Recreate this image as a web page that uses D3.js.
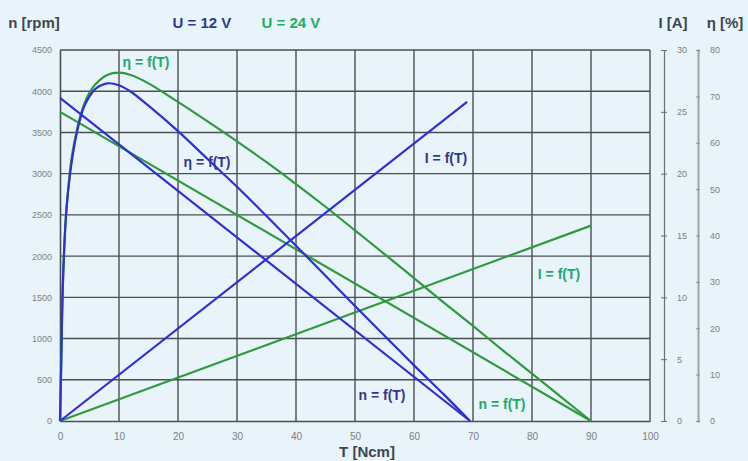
<!DOCTYPE html>
<html><head><meta charset="utf-8">
<script src="https://cdn.jsdelivr.net/npm/d3@7"></script>
<style>
html,body{margin:0;padding:0;background:#e8f4fa;}
svg{display:block;}
</style></head>
<body>
<svg id="c" width="748" height="461"></svg>
<script>
// ---- data ----
const torqueTicks = [0,10,20,30,40,50,60,70,80,90,100];
const speedTicks = [0,500,1000,1500,2000,2500,3000,3500,4000,4500];
const currentTicks = [0,5,10,15,20,25,30];
const effTicks = [0,10,20,30,40,50,60,70,80];

// 12 V (blue)
const speed12T = [0, 69.5];
const speed12 = [3920, 0];
const current12T = [0, 69];
const current12 = [0, 25.8];
const eff12T = [0,0.2,0.5,1,1.5,2,3,4,5,6,8,10,12,15,20,25,30,35,40,45,50,55,60,65,69.5];
const eff12  = [0,12,30,44,51,56,63,67.5,70,71.6,72.8,72.4,71,68,62.5,56.5,50.5,44.2,37.8,31.3,24.8,18.4,12,5.8,0];

// 24 V (green)
const speed24T = [0, 90];
const speed24 = [3750, 0];
const current24T = [0, 90];
const current24 = [0, 15.8];
const eff24T = [0,0.2,0.5,1,1.5,2,3,4,5,6,8,10,12,15,20,25,30,35,40,45,50,55,60,65,70,75,80,85,90];
const eff24  = [0,12,30,44,51.5,57,63.5,68,70.8,72.6,74.6,75.1,74.6,72.8,68.8,64.6,60.3,55.8,51.1,46.2,41.1,36,30.8,25.6,20.5,15.3,10.2,5.1,0];

// ---- layout ----
const svg = d3.select("#c");
const L=60, R=650, TOP=50, BOT=421;
const x = d3.scaleLinear().domain([0,100]).range([L,R]);
const yN = d3.scaleLinear().domain([0,4500]).range([BOT,TOP]);
const yI = d3.scaleLinear().domain([0,30]).range([BOT,TOP]);
const yE = d3.scaleLinear().domain([0,80]).range([BOT,TOP]);

const BLUE="#2f2fd2", GREEN="#2f9a3c";
const BLUE_T="#34368f", GREEN_T="#22a86a";
const GRID="#4a4f52";
const font = "'Liberation Sans Narrow','Arial Narrow','Liberation Sans',sans-serif";
const fmt = d3.format("d");

svg.append("rect").attr("width",748).attr("height",461).attr("fill","#e8f4fa");

// grid
const g = svg.append("g");
g.selectAll(".vx").data(torqueTicks.filter(d=>d>0)).join("line")
  .attr("x1",d=>x(d)).attr("x2",d=>x(d)).attr("y1",yN(4500)).attr("y2",yN(0))
  .attr("stroke",GRID).attr("stroke-width",1.4);
g.selectAll(".hy").data(speedTicks.filter(d=>d>0)).join("line")
  .attr("x1",x(0)).attr("x2",x(100)).attr("y1",d=>yN(d)).attr("y2",d=>yN(d))
  .attr("stroke",GRID).attr("stroke-width",1.4);

// axes
const ax = svg.append("g").attr("transform",`translate(0,${BOT})`)
  .call(d3.axisBottom(x).tickValues(torqueTicks).tickFormat(fmt).tickSize(0).tickPadding(12));
ax.select(".domain").attr("stroke",GRID).attr("stroke-width",1.6);
ax.selectAll("text").attr("fill","#7a7f84").attr("font-size",10).attr("font-family",font);

const ay = svg.append("g").attr("transform",`translate(${L},0)`)
  .call(d3.axisLeft(yN).tickValues(speedTicks).tickFormat(fmt).tickSize(0).tickPadding(8));
ay.select(".domain").attr("stroke",GRID).attr("stroke-width",1.6);
ay.selectAll("text").attr("fill","#7a7f84").attr("font-size",9).attr("font-family",font);

// right axes
const aI = svg.append("g").attr("transform",`translate(664,0)`)
  .call(d3.axisRight(yI).tickValues(currentTicks).tickFormat(fmt).tickSize(3).tickPadding(10));
aI.select(".domain").attr("stroke","#6a6f72").attr("stroke-width",1.2);
aI.selectAll(".tick line").attr("x1",-3).attr("stroke","#6a6f72");
aI.selectAll("text").attr("fill","#7a7f84").attr("font-size",9).attr("font-family",font);

const aE = svg.append("g").attr("transform",`translate(698,0)`)
  .call(d3.axisRight(yE).tickValues(effTicks).tickFormat(fmt).tickSize(2).tickPadding(10));
aE.select(".domain").attr("stroke","#9aa3a8").attr("stroke-width",2);
aE.selectAll(".tick line").attr("x1",-2).attr("stroke","#8a9296");
aE.selectAll("text").attr("fill","#7a7f84").attr("font-size",9).attr("font-family",font);

// curves
function draw(Ts, Vs, ys, color){
  const pts = Ts.map((t,i)=>[t,Vs[i]]);
  svg.append("path").datum(pts)
    .attr("d", d3.line().x(d=>x(d[0])).y(d=>ys(d[1])).curve(d3.curveCatmullRom.alpha(0.5)))
    .attr("fill","none").attr("stroke",color).attr("stroke-width",2.2)
    .attr("stroke-linejoin","round");
}
draw(speed24T, speed24, yN, GREEN);
draw(current24T, current24, yI, GREEN);
draw(eff24T, eff24, yE, GREEN);
draw(speed12T, speed12, yN, BLUE);
draw(current12T, current12, yI, BLUE);
draw(eff12T, eff12, yE, BLUE);

// curve labels
const curveLabels = [
  {t:"η = f(T)", x:146, y:67, c:GREEN_T},
  {t:"η = f(T)", x:207, y:167, c:BLUE_T},
  {t:"I = f(T)", x:446, y:163, c:BLUE_T},
  {t:"I = f(T)", x:559, y:279, c:GREEN_T},
  {t:"n = f(T)", x:382, y:400, c:BLUE_T},
  {t:"n = f(T)", x:502, y:409, c:GREEN_T}
];
svg.selectAll(".cl").data(curveLabels).join("text")
  .attr("x",d=>d.x).attr("y",d=>d.y).attr("text-anchor","middle")
  .attr("fill",d=>d.c).attr("font-size",14).attr("font-weight","bold")
  .attr("font-family",font).text(d=>d.t);

// header texts
const head = [
  {t:"n [rpm]", x:34, y:28, c:"#3c4650"},
  {t:"U = 12 V", x:202, y:28, c:"#2d3b8c"},
  {t:"U = 24 V", x:291, y:28, c:"#22b060"},
  {t:"I [A]", x:673, y:28, c:"#3c4650"},
  {t:"η [%]", x:725, y:28, c:"#3c4650"},
  {t:"T [Ncm]", x:367, y:457, c:"#3c4650"}
];
svg.selectAll(".hd").data(head).join("text")
  .attr("x",d=>d.x).attr("y",d=>d.y).attr("text-anchor","middle")
  .attr("fill",d=>d.c).attr("font-size",15).attr("font-weight","bold")
  .attr("font-family",font).text(d=>d.t);
</script>
</body></html>
